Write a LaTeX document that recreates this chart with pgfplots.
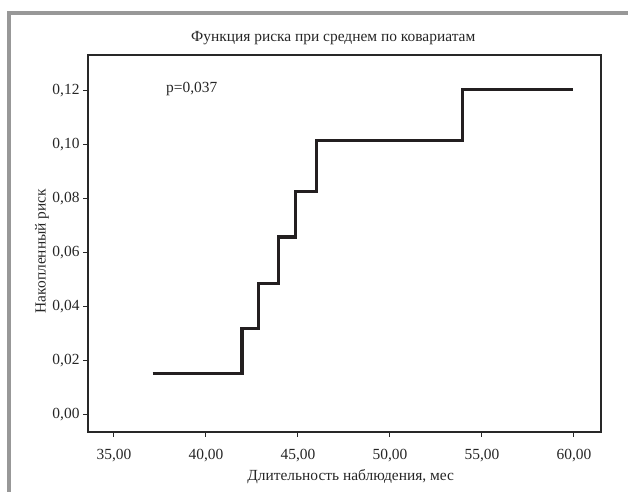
\documentclass[border=0pt]{standalone}
\usepackage{fontspec}
\setmainfont{Liberation Serif}
\usepackage{pgfplots}
\pgfplotsset{compat=1.18}
\definecolor{framegray}{RGB}{152,152,152}
\definecolor{axgray}{RGB}{40,40,40}
\definecolor{stepcol}{RGB}{35,31,32}
\begin{document}
\begin{tikzpicture}[x=1bp,y=1bp]
\path[use as bounding box] (0,0) rectangle (628,492);
\draw[line width=3.5bp, color=framegray] (9,0) -- (9,479) -- (628,479);
\begin{axis}[
  at={(88bp,60bp)}, anchor=south west,
  scale only axis, width=513bp, height=377bp,
  xmin=33.59, xmax=61.47, ymin=-0.0063, ymax=0.1333,
  xtick={35,40,45,50,55,60},
  ytick={0,0.02,0.04,0.06,0.08,0.10,0.12},
  scaled y ticks=false, scaled x ticks=false,
  /pgf/number format/fixed,
  /pgf/number format/fixed zerofill,
  /pgf/number format/precision=2,
  /pgf/number format/use comma,
  /pgf/number format/assume math mode=true,
  tick align=outside, major tick length=5bp,
  xtick pos=bottom, ytick pos=left,
  tick style={line width=1bp, color=axgray},
  axis line style={line width=1.6bp, color=axgray},
  ticklabel style={font=\fontsize{15.5}{18}\selectfont, color=black!85},
  xticklabel style={yshift=-9bp},
  label style={font=\fontsize{15.5}{18}\selectfont, color=black!85},
  xlabel={Длительность наблюдения, мес},
  ylabel={Накопленный риск},
  xlabel style={at={(axis description cs:0.512,-0.119)}, anchor=center},
  ylabel style={at={(axis description cs:-0.0897,0.48)}, anchor=center},
  clip=false,
]
\addplot[const plot, line width=3.3bp, color=stepcol, line join=miter] coordinates {
  (37.10,0.0154) (41.96,0.0321) (42.86,0.0488) (43.95,0.0659)
  (44.87,0.0827) (46.02,0.1016) (53.95,0.1206) (59.93,0.1206)
};
\node[anchor=center, font=\fontsize{15.5}{18}\selectfont, color=black!85] at (axis description cs:0.478,1.045) {Функция риска при среднем по ковариатам};
\node[anchor=west, font=\fontsize{15.5}{18}\selectfont, color=black!85, inner sep=0pt] at (axis description cs:0.152,0.910) {p=0,037};
\end{axis}
\end{tikzpicture}
\end{document}
